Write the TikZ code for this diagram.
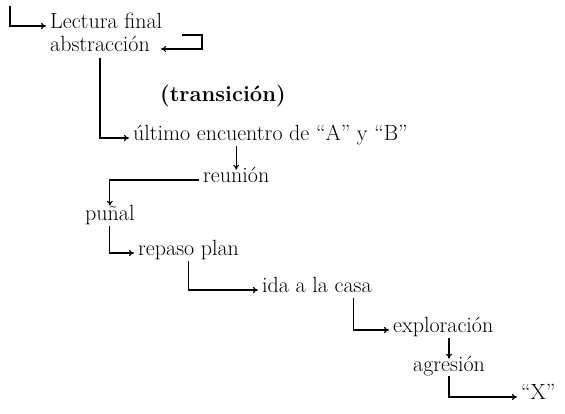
\documentclass[tikz,border=0pt]{standalone}
\usepackage{tikz}
\usetikzlibrary{arrows.meta}
\tikzset{
  txt/.style={anchor=west,inner xsep=4pt,inner ysep=0.5pt,
              text height=0.72em,text depth=0.2em,
              font=\fontsize{22}{26}\selectfont},
  txtbold/.style={txt,font=\fontsize{22}{26}\selectfont\bfseries},
  arr/.style={-{To[length=5pt,width=6pt]},line width=1.1pt},
}

\begin{document}
\begin{tikzpicture}[x=1pt,y=-1pt,>=To]
  \useasboundingbox (0,0) rectangle (565,414);

  \node[txt]     (LECT)   at (46,26)   {Lectura final};
  \node[txt]     (ABST)   at (46,49)   {abstracción};
  \node[txtbold] (TRANS)  at (156,99)  {(transición)};
  \node[txt]     (ULT)    at (129,138) {último encuentro de “A” y “B”};
  \node[txt]     (REUN)   at (199,180) {reunión};
  \node[txt]     (PUNAL)  at (81,218)  {puñal};
  \node[txt]     (REPASO) at (134,253) {repaso plan};
  \node[txt]     (IDA)    at (258,290) {ida a la casa};
  \node[txt]     (EXPL)   at (389,330) {exploración};
  \node[txt]     (AGRES)  at (409,369) {agresión};
  \node[txt]     (X)      at (517,397) {“X”};

  \coordinate (TOP) at (10,6);
  \coordinate (BRK) at (182,35);

  % Lectura / abstraccion
  \draw[arr](TOP) |- (LECT.west);
  \draw[arr](BRK) -- ++(20,0) |- ([xshift=7pt]ABST.east);

  % down to the meeting
  \draw[arr,shorten <=4pt](ABST.south) |- (ULT.west);
  \draw[arr,shorten <=3pt,shorten >=5pt](REUN.north|-ULT.south) -- (REUN.north);
  \draw[arr,shorten >=7pt](REUN.west) -| (PUNAL.north);

  % the steps
  \draw[arr,shorten <=3pt](PUNAL.south) |- (REPASO.west);
  \draw[arr,shorten <=3pt](REPASO.south) |- (IDA.west);
  \draw[arr,shorten <=3pt]([xshift=-22pt]IDA.south east) |- (EXPL.west);
  \draw[arr,shorten <=3pt,shorten >=5pt](AGRES.north|-EXPL.south) -- (AGRES.north);
  \draw[arr,shorten <=2pt](AGRES.south) |- (X.west);
\end{tikzpicture}
\end{document}
